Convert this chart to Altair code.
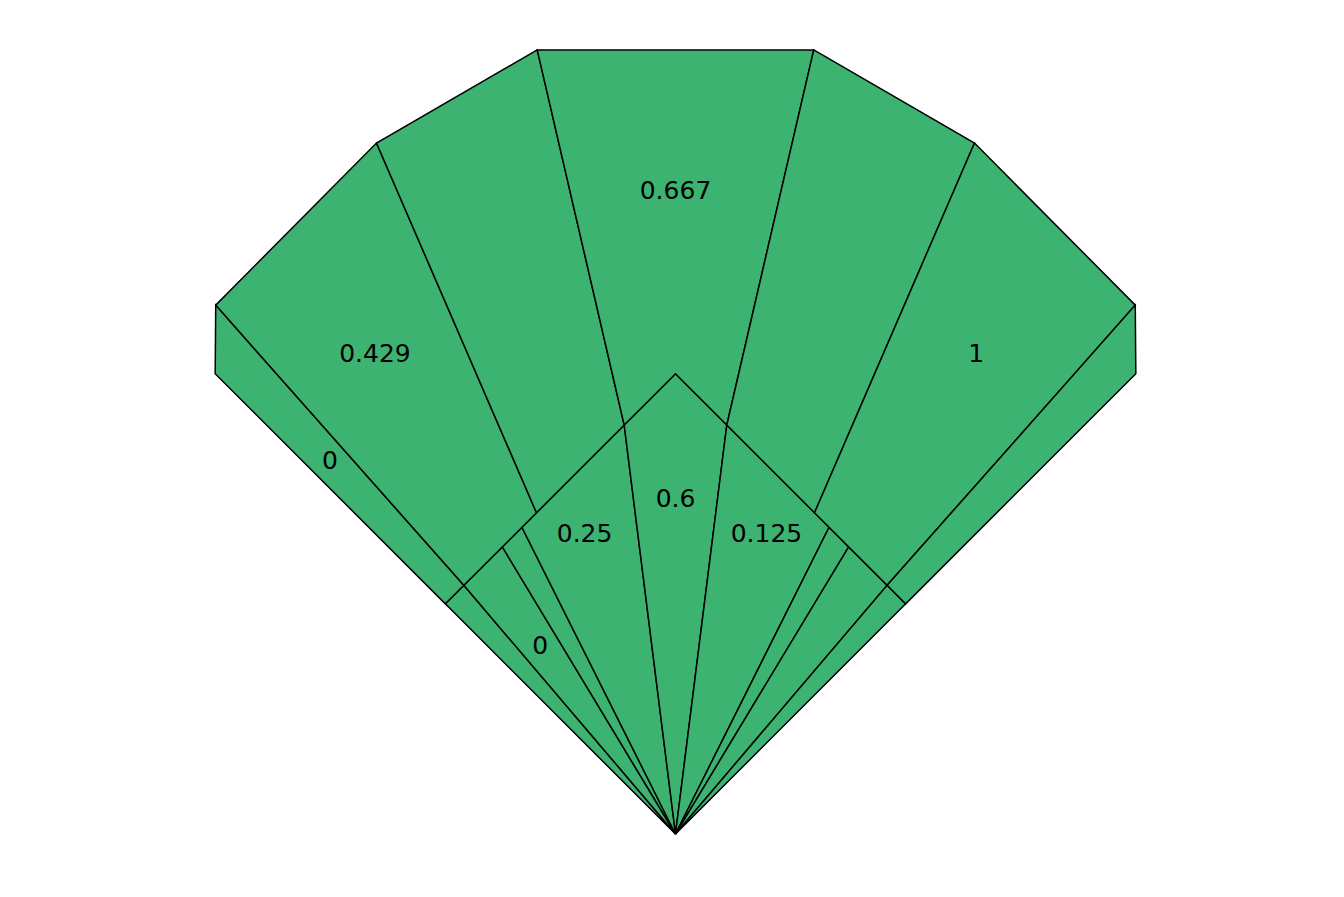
import math
import altair as alt
import pandas as pd

# ---------------- data ----------------
# angles in degrees from the vertical axis, radii in ring units
inner_rim_angles = [-45.0, 0.0, 45.0]
inner_rim_radius = [1.0, 1.414, 1.0]

inner_bounds = [-45.0, -40.4, -31.1, -26.6, -7.15, 7.15, 26.6, 31.1, 40.4, 45.0]
inner_labels = ["", "0", "", "0.25", "0.6", "0.125", "", "", ""]

outer_inner_bounds = [-45.0, -40.4, -23.4, -7.15, 7.15, 23.4, 40.4, 45.0]
outer_outer_bounds = [-45.0, -41.0, -23.4, -10.0, 10.0, 23.4, 41.0, 45.0]
outer_rim_radius = [2.0, 2.153, 2.313, 2.446, 2.446, 2.313, 2.153, 2.0]
outer_labels = ["0", "0.429", "", "0.667", "", "1", ""]

# ---------------- geometry helpers ----------------
def pol(phi, r):
    a = math.radians(phi)
    return (r * math.sin(a), r * math.cos(a))

def cross(a, b):
    return a[0] * b[1] - a[1] * b[0]

def ray_chord(phi, p1, p2):
    d = pol(phi, 1.0)
    e = (p2[0] - p1[0], p2[1] - p1[1])
    return cross(p1, e) / cross(d, e)

def inner_r(phi):
    for i in range(len(inner_rim_angles) - 1):
        a1, a2 = inner_rim_angles[i], inner_rim_angles[i + 1]
        if a1 - 1e-9 <= phi <= a2 + 1e-9:
            p1 = pol(a1, inner_rim_radius[i])
            p2 = pol(a2, inner_rim_radius[i + 1])
            return ray_chord(phi, p1, p2)
    return inner_rim_radius[-1]

def inner_edge(a1, a2):
    pts = [pol(a1, inner_r(a1))]
    for ang, r in zip(inner_rim_angles, inner_rim_radius):
        if a1 < ang < a2:
            pts.append(pol(ang, r))
    pts.append(pol(a2, inner_r(a2)))
    return pts

def mean_radius(pts):
    return sum(math.hypot(x, y) for x, y in pts) / len(pts)

rows = []
labels = []
pid = 0

for i, lab in enumerate(inner_labels):
    a1, a2 = inner_bounds[i], inner_bounds[i + 1]
    edge = inner_edge(a1, a2)
    pts = [(0.0, 0.0)] + edge
    for k, (x, y) in enumerate(pts):
        rows.append({"id": pid, "k": k, "x": x, "y": y})
    pid += 1
    if lab:
        m = (a1 + a2) / 2
        w = a2 - a1
        t = 1.0 / (1.0 + 0.25 * w)          # pull toward apex for narrow slices
        lx, ly = pol(m, (1 - t) * mean_radius(edge))
        labels.append({"label": lab, "x": lx, "y": ly})

for i, lab in enumerate(outer_labels):
    b1, b2 = outer_inner_bounds[i], outer_inner_bounds[i + 1]
    c1, c2 = outer_outer_bounds[i], outer_outer_bounds[i + 1]
    q1 = pol(c1, outer_rim_radius[i])
    q2 = pol(c2, outer_rim_radius[i + 1])
    edge = inner_edge(b1, b2)
    pts = edge + [q2, q1]
    for k, (x, y) in enumerate(pts):
        rows.append({"id": pid, "k": k, "x": x, "y": y})
    pid += 1
    if lab:
        m = ((b1 + b2) / 2 + (c1 + c2) / 2) / 2
        w = c2 - c1
        f = 0.625 - 0.42 / w
        ri = mean_radius(edge)
        ro = ray_chord(m, q1, q2)
        lx, ly = pol(m, ri + f * (ro - ri))
        labels.append({"label": lab, "x": lx, "y": ly})

poly_df = pd.DataFrame(rows)
label_df = pd.DataFrame(labels)

# ---------------- layout ----------------
W, H = 1344, 897
CX, CY = 675.5, 834.0     # apex position in pixels
UNIT = 325.5              # pixels per ring unit
xdom = [-CX / UNIT, (W - CX) / UNIT]
ydom = [-(H - CY) / UNIT, CY / UNIT]

xs = alt.Scale(domain=xdom, nice=False, zero=False)
ys = alt.Scale(domain=ydom, nice=False, zero=False)

polys = alt.Chart(poly_df).mark_line(
    interpolate="linear-closed",
    fill="#3CB371",
    stroke="black",
    strokeWidth=1.5,
    strokeJoin="miter",
).encode(
    x=alt.X("x:Q", scale=xs, axis=None),
    y=alt.Y("y:Q", scale=ys, axis=None),
    detail="id:N",
    order="k:Q",
)

texts = alt.Chart(label_df).mark_text(
    font="DejaVu Sans", fontSize=25, color="black", align="center", baseline="middle"
).encode(
    x=alt.X("x:Q", scale=xs, axis=None),
    y=alt.Y("y:Q", scale=ys, axis=None),
    text="label:N",
)

chart = alt.layer(polys, texts).properties(
    width=W, height=H, padding=0, autosize="none", background="white"
).configure_view(stroke=None)

chart.save("out.html", embed_options={"renderer": "svg", "actions": False})
